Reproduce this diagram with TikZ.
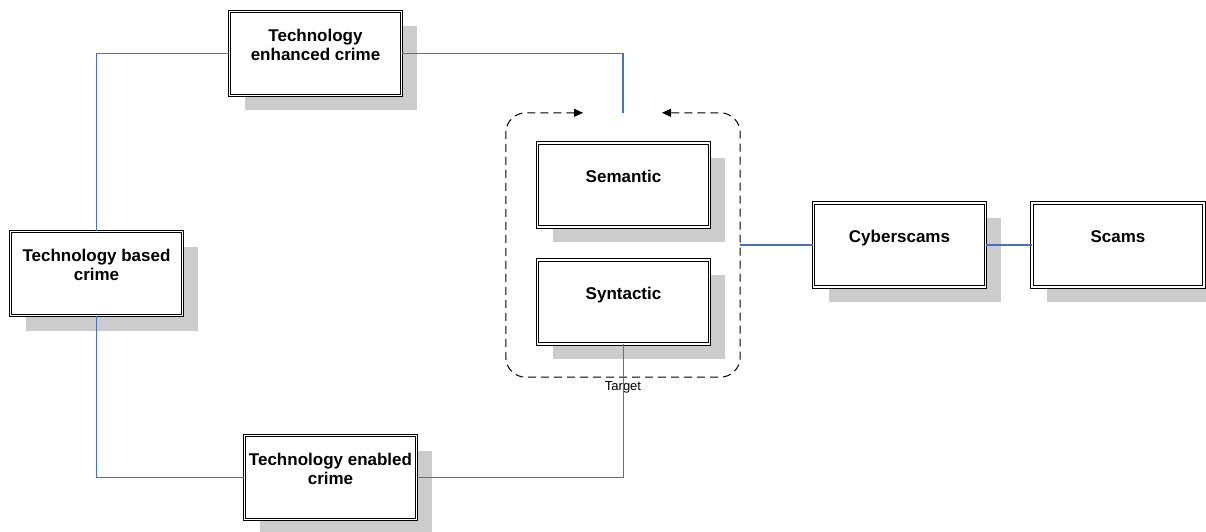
\documentclass[tikz,border=0pt]{standalone}
\usepackage{fontspec}
\setmainfont{Liberation Sans}
\usepackage{tikz}
\usetikzlibrary{positioning}
\usetikzlibrary{arrows.meta}
\usetikzlibrary{shadows}
\definecolor{linkcolor}{RGB}{68,114,196}
\definecolor{shadowcolor}{RGB}{204,204,204}

\begin{document}
\begin{tikzpicture}[
    x=1pt, y=-1pt,
    block/.style={rectangle, draw, double, line width=0.9pt, double distance=1.4pt, fill=white, minimum width=172pt, minimum height=84pt, align=center, font=\fontsize{17}{18.5}\selectfont\bfseries, text depth=17pt, drop shadow={shadow xshift=15pt, shadow yshift=-15pt, fill=shadowcolor, opacity=1}},
    link/.style={draw=linkcolor, line width=1.1pt},
    group/.style={dash pattern=on 8pt off 5pt, line width=1pt, rounded corners=20pt}
]
\useasboundingbox (0,0) rectangle (1206,532);

% Crime kinds
\node[block] (enhanced) at (315.5,53.5) {Technology\\enhanced crime};
\node[block] (based) at (96.5,273.5) {Technology based\\crime};
\node[block] (enabled) at (330.5,477.5) {Technology enabled\\crime};

% Target group
\node[minimum width=234pt, minimum height=264pt, inner sep=0pt] (target) at (623,245) {};
\node[block] (semantic) at (623.5,185) {Semantic};
\node[block, below=32pt of semantic] (syntactic) {Syntactic};
\draw[group, {Triangle[length=9pt,width=8pt]}-{Triangle[length=9pt,width=8pt]}] ([xshift=-40pt]target.north) -| (target.south west) -- (target.south east) |- ([xshift=39pt]target.north);
\node[font=\fontsize{13}{15}\selectfont, inner sep=0pt, below=4pt of target] (targetlabel) {Target};

% Scams
\node[block] (cyber) at (899.5,245) {Cyberscams};
\node[block, right=45.6pt of cyber] (scams) {Scams};

% Links
\draw[link] (based.north) |- (enhanced.west);
\draw[link] (enhanced.east) -| (target.north);
\draw[link] (based.south) |- (enabled.west);
\draw[link] (syntactic.south) |- (enabled.east);
\draw[link] (target.east) -- (cyber.west);
\draw[link] (cyber.east) -- (scams.west);
\end{tikzpicture}
\end{document}
